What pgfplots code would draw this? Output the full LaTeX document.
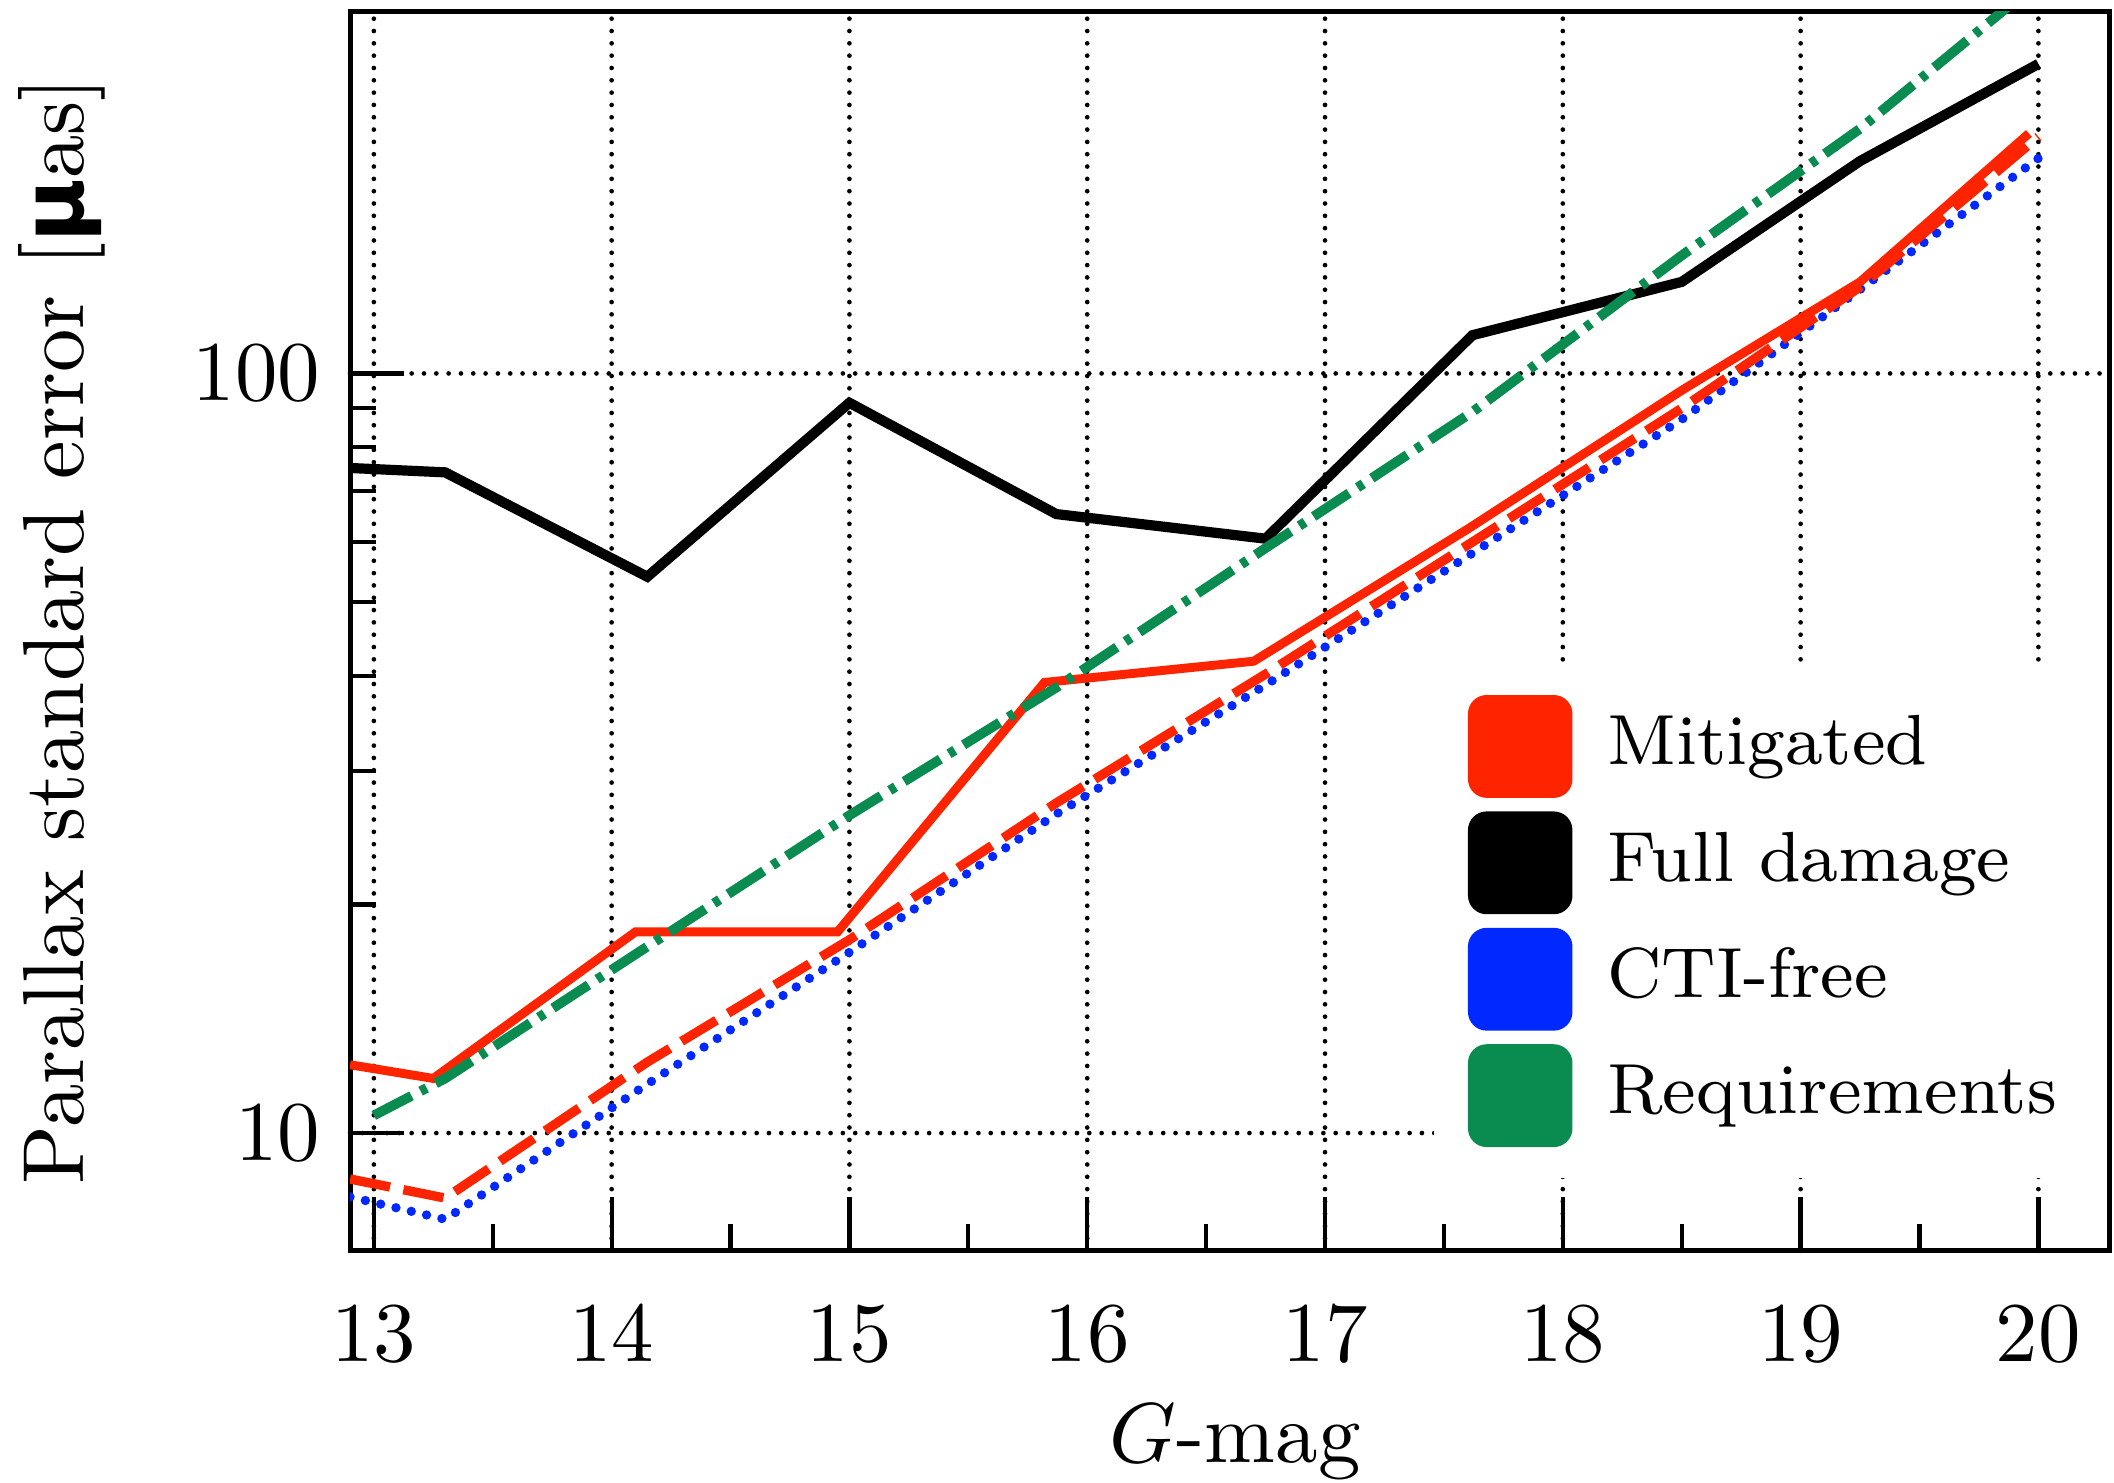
\documentclass[border=0pt]{standalone}
\usepackage{pgfplots}
\pgfplotsset{compat=1.18}
\usepackage{fontspec}
\newfontfamily\dejavu{DejaVu Sans}
\definecolor{mitred}{RGB}{255,36,0}
\definecolor{ctiblue}{RGB}{0,40,255}
\definecolor{reqgreen}{RGB}{10,140,80}
\begin{document}
\begin{tikzpicture}
\begin{axis}[
  scale only axis, width=207.1pt, height=145.9pt,
  ymode=log, xmin=12.9, xmax=20.3, ymin=7, ymax=300,
  xtick={13,14,15,16,17,18,19,20}, minor x tick num=1,
  ytick={10,100}, yticklabels={$10$,$100$},
  tick align=inside, tick pos=left,
  major tick length=6.3pt, minor tick length=3.1pt,
  every tick/.style={black, line width=0.5pt},
  axis line style={line width=0.6pt},
  grid=major,
  major grid style={black, line width=0.55pt, line cap=round, dash pattern=on 0pt off 1.45pt},
  ticklabel style={font=\fontsize{10}{12}\selectfont},
  xticklabel style={yshift=-3.1pt},
  xlabel={$G$-mag},
  xlabel style={at={(axis description cs:0.503,0)}, anchor=north, yshift=-14.5pt, font=\fontsize{10}{12}\selectfont},
  ylabel={Parallax standard error [{\dejavu\bfseries μ}as]},
  ylabel style={at={(axis description cs:-0.1637,0.5)}, anchor=center, font=\fontsize{10.2}{12}\selectfont},
  legend cell align=left,
  legend style={draw=none, fill=white, at={(0.615,0.475)}, anchor=north west,
    inner xsep=4pt, inner ysep=3.7pt, row sep=1.6pt, column sep=2.6pt,
    font=\fontsize{8.35}{10}\selectfont, nodes={inner sep=1.5pt}},
]
% CTI-free
\addplot[ctiblue, line width=1.1pt, line cap=round, dash pattern=on 0pt off 1.85pt, forget plot] coordinates {
(12.9,8.24) (13.3,7.70) (14.15,11.6) (15.0,17.3) (15.87,26.3) (16.75,38.9) (17.62,58) (18.5,87) (19.25,129) (20.0,192)
};
% Mitigated (dashed)
\addplot[mitred, line width=1.1pt, dash pattern=on 4.8pt off 1.6pt, forget plot] coordinates {
(12.9,8.70) (13.3,8.21) (14.15,12.4) (15.0,17.97) (15.87,27.2) (16.75,40.2) (17.62,60) (18.5,90) (19.25,130) (20.0,205)
};
% Mitigated (solid)
\addplot[mitred, line width=1.05pt, forget plot] coordinates {
(12.9,12.3) (13.25,11.8) (14.10,18.4) (14.95,18.4) (15.82,39.2) (16.70,41.8) (17.6,62.4) (18.5,95) (19.25,132) (19.96,207)
};
% Full damage
\addplot[black, line width=1.2pt, forget plot] coordinates {
(12.9,75.1) (13.3,74.1) (14.15,54.0) (15.0,91.5) (15.87,65.3) (16.75,60.6) (17.62,112.3) (18.5,132) (19.25,190.4) (20.0,255.6)
};
% Requirements
\addplot[reqgreen, line width=1.15pt, dash pattern=on 5pt off 1.2pt on 0.8pt off 1.2pt, forget plot] coordinates {
(13.0,10.55) (13.3,11.8) (14.15,17.6) (15.0,26.2) (15.87,38.6) (16.75,58.9) (17.62,89) (18.5,143) (19.25,210) (20.0,328)
};
\addlegendimage{color=mitred, legend image code/.code={\fill[rounded corners=2pt] (0pt,-5.85pt) rectangle (11.9pt,5.85pt);}}
\addlegendentry{Mitigated}
\addlegendimage{color=black, legend image code/.code={\fill[rounded corners=2pt] (0pt,-5.85pt) rectangle (11.9pt,5.85pt);}}
\addlegendentry{Full damage}
\addlegendimage{color=ctiblue, legend image code/.code={\fill[rounded corners=2pt] (0pt,-5.85pt) rectangle (11.9pt,5.85pt);}}
\addlegendentry{CTI-free}
\addlegendimage{color=reqgreen, legend image code/.code={\fill[rounded corners=2pt] (0pt,-5.85pt) rectangle (11.9pt,5.85pt);}}
\addlegendentry{Requirements}
\end{axis}
\pgfresetboundingbox
\path ([shift={(-41.2pt,-27.3pt)}]current axis.south west) rectangle ([shift={(0.5pt,1.3pt)}]current axis.north east);
\end{tikzpicture}
\end{document}
